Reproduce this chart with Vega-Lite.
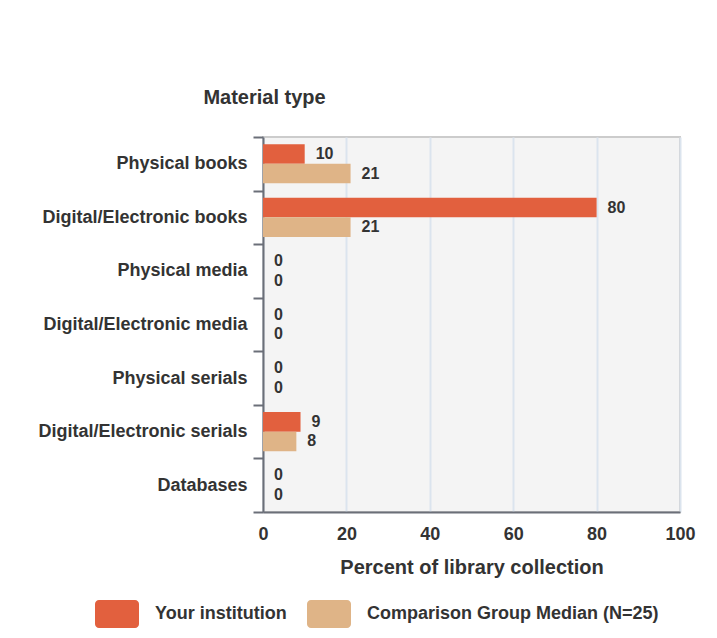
{
  "$schema": "https://vega.github.io/schema/vega-lite/v6.json",
  "width": 417,
  "height": 375,
  "autosize": "none",
  "padding": {"left": 263, "top": 137, "right": 37, "bottom": 126},
  "background": "white",
  "config": {
    "font": "Liberation Sans",
    "view": {"fill": "#f4f4f4", "stroke": "#cccccc", "strokeWidth": 2}
  },
  "data": {
    "values": [
      {"type": "Physical books", "series": "Your institution", "value": 10},
      {"type": "Physical books", "series": "Comparison Group Median (N=25)", "value": 21},
      {"type": "Digital/Electronic books", "series": "Your institution", "value": 80},
      {"type": "Digital/Electronic books", "series": "Comparison Group Median (N=25)", "value": 21},
      {"type": "Physical media", "series": "Your institution", "value": 0},
      {"type": "Physical media", "series": "Comparison Group Median (N=25)", "value": 0},
      {"type": "Digital/Electronic media", "series": "Your institution", "value": 0},
      {"type": "Digital/Electronic media", "series": "Comparison Group Median (N=25)", "value": 0},
      {"type": "Physical serials", "series": "Your institution", "value": 0},
      {"type": "Physical serials", "series": "Comparison Group Median (N=25)", "value": 0},
      {"type": "Digital/Electronic serials", "series": "Your institution", "value": 9},
      {"type": "Digital/Electronic serials", "series": "Comparison Group Median (N=25)", "value": 8},
      {"type": "Databases", "series": "Your institution", "value": 0},
      {"type": "Databases", "series": "Comparison Group Median (N=25)", "value": 0}
    ]
  },
  "encoding": {
    "y": {
      "field": "type",
      "type": "nominal",
      "sort": ["Physical books", "Digital/Electronic books", "Physical media", "Digital/Electronic media", "Physical serials", "Digital/Electronic serials", "Databases"],
      "scale": {"paddingInner": 0, "paddingOuter": 0},
      "axis": {
        "title": "Material type",
        "titleAngle": 0,
        "titleX": 1,
        "titleY": -40,
        "titleAlign": "center",
        "titleBaseline": "middle",
        "titleFontSize": 20,
        "titleFontWeight": "bold",
        "titleColor": "#333333",
        "labelFontSize": 18,
        "labelFontWeight": "bold",
        "labelColor": "#333333",
        "labelPadding": 6,
        "labelLimit": 300,
        "tickBand": "extent",
        "tickSize": 10,
        "tickWidth": 2,
        "tickColor": "#6b6f78",
        "domainColor": "#6b6f78",
        "domainWidth": 2,
        "grid": false
      }
    },
    "yOffset": {
      "field": "series",
      "type": "nominal",
      "sort": ["Your institution", "Comparison Group Median (N=25)"],
      "scale": {"paddingInner": 0, "paddingOuter": 0.37}
    },
    "x": {
      "field": "value",
      "type": "quantitative",
      "scale": {"domain": [0, 100], "nice": false},
      "axis": {
        "title": "Percent of library collection",
        "titleFontSize": 20,
        "titleFontWeight": "bold",
        "titleColor": "#333333",
        "titlePadding": 14,
        "values": [0, 20, 40, 60, 80, 100],
        "labelFontSize": 18,
        "labelFontWeight": "bold",
        "labelColor": "#333333",
        "labelPadding": 13,
        "labelFlush": false,
        "ticks": false,
        "domainColor": "#6b6f78",
        "domainWidth": 2,
        "grid": true,
        "gridColor": "#dbe4ee",
        "gridWidth": 2
      }
    }
  },
  "layer": [
    {
      "mark": {"type": "bar"},
      "encoding": {
        "color": {
          "field": "series",
          "type": "nominal",
          "sort": ["Your institution", "Comparison Group Median (N=25)"],
          "scale": {"domain": ["Your institution", "Comparison Group Median (N=25)"], "range": ["#e2603e", "#dfb487"]},
          "legend": {
            "orient": "none",
            "legendX": -168,
            "legendY": 455,
            "direction": "horizontal",
            "columns": 2,
            "title": null,
            "padding": 0,
            "symbolType": "M-0.82,-0.636 H0.82 A0.18,0.18 0 0 1 1,-0.456 V0.456 A0.18,0.18 0 0 1 0.82,0.636 H-0.82 A0.18,0.18 0 0 1 -1,0.456 V-0.456 A0.18,0.18 0 0 1 -0.82,-0.636 Z",
            "symbolSize": 1936,
            "symbolOpacity": 1,
            "symbolStrokeWidth": 0,
            "labelFontSize": 18,
            "labelFontWeight": "bold",
            "labelColor": "#333333",
            "labelOffset": 16,
            "labelLimit": 400,
            "columnPadding": 20
          }
        }
      }
    },
    {
      "mark": {"type": "text", "align": "left", "baseline": "middle", "dx": 11, "fontSize": 16, "fontWeight": "bold", "color": "#333333"},
      "encoding": {"text": {"field": "value", "type": "quantitative"}}
    }
  ]
}
